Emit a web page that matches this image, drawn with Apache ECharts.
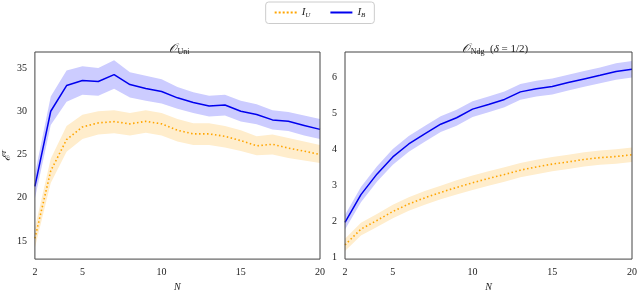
<!DOCTYPE html>
<html><head><meta charset="utf-8">
<script src="https://cdn.jsdelivr.net/npm/echarts@6/dist/echarts.min.js"></script>
<style>html,body{margin:0;padding:0;background:#fff}#c{width:640px;height:297px}</style>
</head><body><div id="c"></div>
<script>
const N = [2,3,4,5,6,7,8,9,10,11,12,13,14,15,16,17,18,19,20];
// Left panel (O_Uni)
const uniB    = [21.3,30.0,32.97,33.55,33.44,34.24,33.08,32.64,32.28,31.55,31.0,30.6,30.72,30.0,29.63,29.0,28.83,28.36,27.9];
const uniBLo  = [19.9,28.4,31.1,31.9,31.8,32.6,31.6,31.2,30.9,30.3,29.8,29.4,29.5,28.8,28.5,27.9,27.7,27.2,26.8];
const uniBHi  = [22.7,31.7,34.7,35.2,35.0,35.9,34.5,34.1,33.7,32.8,32.2,31.8,31.9,31.2,30.8,30.1,29.9,29.5,29.1];
const uniU    = [15.3,23.1,26.72,28.18,28.65,28.8,28.54,28.83,28.54,27.8,27.38,27.38,27.1,26.6,26.0,26.18,25.74,25.38,25.0];
const uniULo  = [14.2,21.7,25.3,26.8,27.3,27.45,27.2,27.5,27.2,26.5,26.1,26.1,25.8,25.4,24.9,25.0,24.6,24.3,24.0];
const uniUHi  = [16.5,24.5,28.3,29.6,30.0,30.1,29.8,30.1,29.8,29.1,28.6,28.6,28.3,27.8,27.1,27.3,26.9,26.5,26.1];
// Right panel (O_Ndg)
const ndgB    = [1.98,2.75,3.32,3.80,4.16,4.44,4.71,4.89,5.13,5.26,5.40,5.61,5.70,5.76,5.87,5.97,6.07,6.18,6.24];
const ndgU    = [1.35,1.79,2.03,2.28,2.49,2.66,2.81,2.95,3.08,3.20,3.31,3.43,3.52,3.60,3.66,3.73,3.78,3.81,3.86];
const ndgBErr = [0.2,0.21,0.21,0.22,0.22,0.22,0.22,0.22,0.22,0.22,0.22,0.22,0.22,0.22,0.22,0.22,0.22,0.23,0.23];
const ndgUErr = [0.17,0.18,0.18,0.19,0.19,0.19,0.19,0.2,0.2,0.2,0.2,0.2,0.2,0.2,0.2,0.2,0.2,0.2,0.2];
const xTicks = [2,5,10,15,20];
const yTicksL = [15,20,25,30,35];
const yTicksR = [1,2,3,4,5,6];

const BLUE = '#0000ee', ORANGE = '#ffa500', BLUEBAND = '#ccccff', ORBAND = '#ffedcc';
const FONT = 'Liberation Serif';
const pts = (ys) => N.map((n,i)=>[n,ys[i]]);

function band(lo, hi, xi, color){
  return {type:'custom', xAxisIndex:xi, yAxisIndex:xi, silent:true, z:1,
    data: N.map((n,i)=>[n, lo[i], hi[i]]),
    encode:{x:0, y:[1,2]},
    renderItem:function(params, api){
      if(params.dataIndex !== 0) return null;
      const top = N.map((n,i)=>api.coord([n, hi[i]]));
      const bot = N.map((n,i)=>api.coord([n, lo[i]])).reverse();
      return {type:'polygon', shape:{points: top.concat(bot)}, style:{fill:color, stroke:null}};
    }};
}
const ndgBLo = ndgB.map((v,i)=>v-ndgBErr[i]), ndgBHi = ndgB.map((v,i)=>v+ndgBErr[i]);
const ndgULo = ndgU.map((v,i)=>v-ndgUErr[i]), ndgUHi = ndgU.map((v,i)=>v+ndgUErr[i]);

function xAxis(gi){
  return {type:'value', gridIndex:gi, min:2, max:20,
    axisLine:{show:false}, axisTick:{show:false}, splitLine:{show:false},
    axisLabel:{customValues:xTicks, fontFamily:FONT, fontSize:10, color:'#222', margin:8},
    name:'N', nameLocation:'middle', nameGap:19,
    nameTextStyle:{fontFamily:FONT, fontStyle:'italic', fontSize:10, color:'#222'}};
}
function yAxis(gi, min, max, ticks, name){
  const a = {type:'value', gridIndex:gi, min:min, max:max,
    axisLine:{show:false}, axisTick:{show:false}, splitLine:{show:false},
    axisLabel:{customValues:ticks, fontFamily:FONT, fontSize:10, color:'#222', margin:8}};
  if(name){
    a.name = '{e|ℰ}{t|T}'; a.nameLocation='middle'; a.nameGap=16; a.nameRotate=90;
    a.nameTextStyle={fontFamily:FONT, fontSize:10, color:'#222',
      rich:{e:{fontFamily:FONT,fontStyle:'italic',fontSize:11,color:'#222'},
            t:{fontFamily:FONT,fontStyle:'italic',fontSize:7,color:'#222',padding:[0,0,6,0]}}};
  }
  return a;
}
const titleRich = {
  o:{fontFamily:'DejaVu Serif', fontStyle:'italic', fontWeight:'normal', fontSize:12, color:'#222'},
  s:{fontFamily:FONT, fontWeight:'normal', fontSize:8, color:'#222', padding:[6,0,0,1]},
  p:{fontFamily:FONT, fontWeight:'normal', fontSize:11, color:'#222'},
  d:{fontFamily:FONT, fontStyle:'italic', fontWeight:'normal', fontSize:11, color:'#222'}
};
const DOTS = 'path://M0,0h2v2h-2z M4,0h2v2h-2z M8,0h2v2h-2z M12,0h2v2h-2z M16,0h2v2h-2z M20,0h2v2h-2z';
const SOLID = 'path://M0,0h22v2h-22z';

const chart = echarts.init(document.getElementById('c'), null, {renderer:'canvas'});
chart.setOption({
  backgroundColor:'#fff',
  animation:false,
  title:[
    {text:'{o|𝒪}{s|Uni}', left:174, top:37, textAlign:'center', textStyle:{fontWeight:'normal', rich:titleRich}},
    {text:'{o|𝒪}{s|Ndg}{p|  (}{d|δ}{p| = 1/2)}', left:490, top:37, textAlign:'center', textStyle:{fontWeight:'normal', rich:titleRich}}
  ],
  legend:{top:2, left:'center', itemWidth:22, itemHeight:2, itemGap:20,
    borderColor:'#ccc', borderWidth:1, borderRadius:3, padding:[5,9,5,9],
    data:[{name:'U', icon:DOTS, itemStyle:{color:ORANGE}},{name:'B', icon:SOLID, itemStyle:{color:BLUE}}],
    formatter: n => '{i|I}{s|'+n+'}',
    textStyle:{rich:{i:{fontFamily:FONT,fontStyle:'italic',fontSize:11,color:'#222'},
                     s:{fontFamily:FONT,fontStyle:'italic',fontSize:7,color:'#222',padding:[5,0,0,0]}}}},
  grid:[
    {left:29, top:52, width:291, height:220, show:true, borderColor:'#444', borderWidth:1, backgroundColor:'transparent', z:5},
    {left:345, top:52, width:291, height:220, show:true, borderColor:'#444', borderWidth:1, backgroundColor:'transparent', z:5}
  ],
  xAxis:[xAxis(0), xAxis(1)],
  yAxis:[yAxis(0,12.9,36.85,yTicksL,true), yAxis(1,0.955,6.72,yTicksR,false)],
  series:[
    band(uniBLo, uniBHi, 0, BLUEBAND),
    band(uniULo, uniUHi, 0, ORBAND),
    band(ndgBLo, ndgBHi, 1, BLUEBAND),
    band(ndgULo, ndgUHi, 1, ORBAND),
    {name:'U', type:'line', xAxisIndex:0, yAxisIndex:0, data:pts(uniU), symbol:'none', z:3,
     lineStyle:{color:ORANGE, width:1.6, type:[1.5,2.5]}, itemStyle:{color:ORANGE}},
    {name:'B', type:'line', xAxisIndex:0, yAxisIndex:0, data:pts(uniB), symbol:'none', z:3,
     lineStyle:{color:BLUE, width:1.5}, itemStyle:{color:BLUE}},
    {name:'U', type:'line', xAxisIndex:1, yAxisIndex:1, data:pts(ndgU), symbol:'none', z:3,
     lineStyle:{color:ORANGE, width:1.6, type:[1.5,2.5]}, itemStyle:{color:ORANGE}},
    {name:'B', type:'line', xAxisIndex:1, yAxisIndex:1, data:pts(ndgB), symbol:'none', z:3,
     lineStyle:{color:BLUE, width:1.5}, itemStyle:{color:BLUE}}
  ]
});
</script></body></html>
